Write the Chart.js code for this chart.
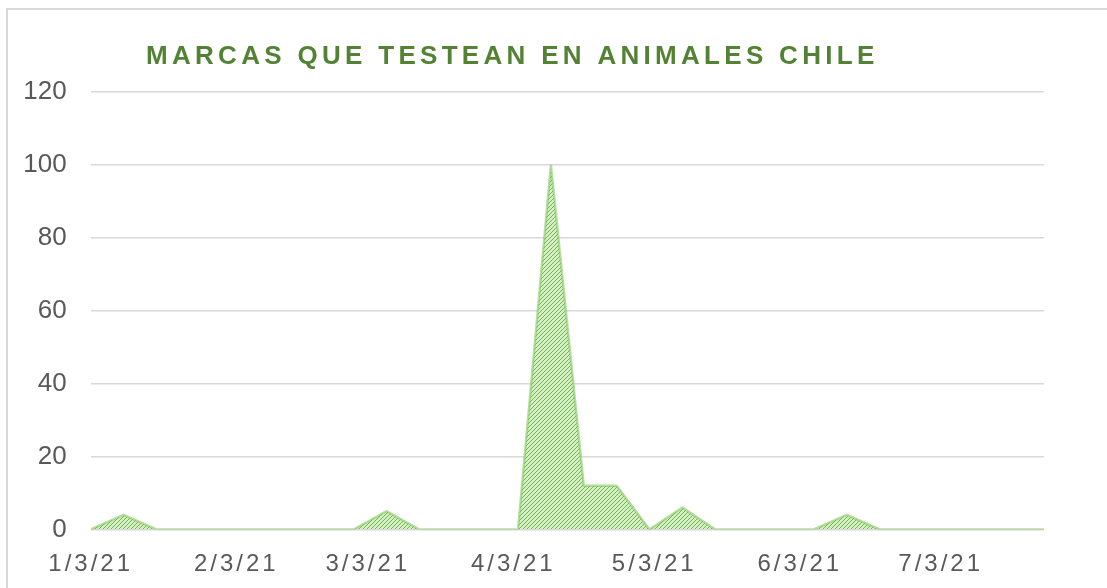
<!doctype html>
<html lang="es">
<head>
<meta charset="utf-8">
<title>Marcas que testean en animales Chile</title>
<script src="https://cdn.jsdelivr.net/npm/chart.js@4"></script>
<style>
  * { margin: 0; padding: 0; box-sizing: border-box; }
  html, body { width: 1107px; height: 588px; background: #fff; overflow: hidden; }
  .frame {
    position: absolute; left: 6px; top: 8px; width: 1120px; height: 600px;
    border: 2px solid #d9d9d9;
  }
  .wrapper { position: absolute; left: 0; top: 0; width: 1107px; height: 588px; }
</style>
</head>
<body>
<div class="frame"></div>
<div class="wrapper"><canvas id="canvas" width="1107" height="588"></canvas></div>
<script>
// weekly values, starting on 3 Jan 2021 (x = days since that date)
var weekDays = [0, 7, 14, 21, 28, 35, 42, 49, 56, 63, 70, 77, 84, 91, 98,
                105, 112, 119, 126, 133, 140, 147, 154, 161, 168, 175, 182, 189, 196, 203];
var marcas   = [0, 4, 0, 0, 0, 0, 0, 0, 0, 5, 0, 0, 0, 0, 100,
                12, 12, 0, 6, 0, 0, 0, 0, 4, 0, 0, 0, 0, 0, 0];
// month ticks (day offsets) and their labels
var tickDays   = [0, 31, 59, 90, 120, 151, 181];
var tickLabels = ['1/3/21', '2/3/21', '3/3/21', '4/3/21', '5/3/21', '6/3/21', '7/3/21'];
var yTicks = [0, 20, 40, 60, 80, 100, 120];
var chartTitle = 'MARCAS QUE TESTEAN EN ANIMALES CHILE';

var canvas = document.getElementById('canvas');
var ctx = canvas.getContext('2d');

// hatched green fill
var tile = document.createElement('canvas');
tile.width = 4; tile.height = 4;
var tctx = tile.getContext('2d');
tctx.fillStyle = '#d8eecb';
tctx.fillRect(0, 0, 4, 4);
tctx.fillStyle = '#6dbb47';
for (var i = 0; i < 4; i++) tctx.fillRect(3 - i, i, 1, 1);
var hatch = ctx.createPattern(tile, 'repeat');

var points = weekDays.map(function (d, i) { return { x: d, y: marcas[i] }; });

var titlePlugin = {
  id: 'spacedTitle',
  afterDatasetsDraw: function (chart) {
    chart.ctx.letterSpacing = '3px';   // x tick labels are drawn after this (ticks.z: 1)
  },
  afterDraw: function (chart) {
    var c = chart.ctx;
    c.letterSpacing = '0px';
    c.save();
    c.letterSpacing = '4.3px';
    c.font = 'bold 26px "Liberation Sans", Arial, sans-serif';
    c.fillStyle = '#548235';
    c.textAlign = 'left';
    c.textBaseline = 'middle';
    c.fillText(chartTitle, 146, 57);
    c.restore();
    c.letterSpacing = '0px';
  }
};

new Chart(ctx, {
  type: 'line',
  data: {
    datasets: [{
      data: points,
      fill: 'origin',
      backgroundColor: hatch,
      borderColor: 'rgba(125, 195, 90, 0.55)',
      borderWidth: 2.5,
      tension: 0,
      pointRadius: 0
    }]
  },
  options: {
    responsive: false,
    animation: false,
    layout: { padding: { top: 92, right: 63, left: 0, bottom: 0 } },
    plugins: {
      legend: { display: false },
      tooltip: { enabled: false },
      title: { display: false }
    },
    scales: {
      x: {
        type: 'linear',
        min: weekDays[0],
        max: weekDays[weekDays.length - 1],
        grid: { display: false, drawTicks: false },
        border: { display: false },
        afterBuildTicks: function (scale) {
          scale.ticks = tickDays.map(function (d) { return { value: d }; });
        },
        afterFit: function (scale) { scale.height = 58.5; },
        ticks: {
          z: 1,
          autoSkip: false,
          maxRotation: 0,
          padding: 20,
          color: '#595959',
          font: { family: '"Liberation Sans", Arial, sans-serif', size: 24 },
          callback: function (v) {
            var k = tickDays.indexOf(v);
            return k >= 0 ? tickLabels[k] : '';
          }
        }
      },
      y: {
        min: yTicks[0],
        max: yTicks[yTicks.length - 1],
        grid: { color: '#d9d9d9', lineWidth: 1.5, drawTicks: false },
        border: { display: false },
        afterBuildTicks: function (scale) {
          scale.ticks = yTicks.map(function (v) { return { value: v }; });
        },
        afterFit: function (scale) { scale.width = 90.7; },
        ticks: {
          padding: 24,
          color: '#595959',
          font: { family: '"Liberation Sans", Arial, sans-serif', size: 26 }
        }
      }
    }
  },
  plugins: [titlePlugin]
});
</script>
</body>
</html>
